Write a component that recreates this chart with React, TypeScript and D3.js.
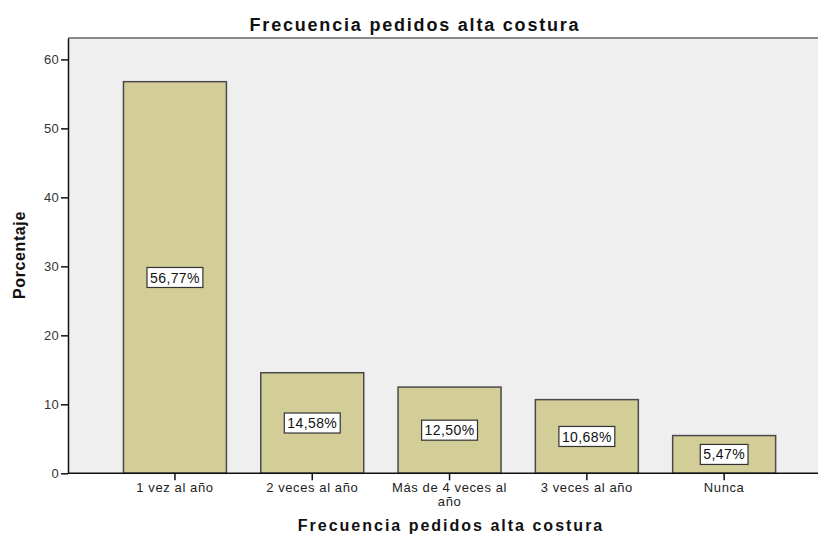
import React, { useEffect, useRef } from 'react';
import * as d3 from 'd3';

const categories = ['1 vez al año', '2 veces al año', 'Más de 4 veces al año', '3 veces al año', 'Nunca'];
const percentages = [56.77, 14.58, 12.5, 10.68, 5.47];
const valueLabels = ['56,77%', '14,58%', '12,50%', '10,68%', '5,47%'];
const yTicks = [0, 10, 20, 30, 40, 50, 60];

const App = () => {
    const ref = useRef<SVGSVGElement>(null);

    useEffect(() => {
        document.body.style.margin = '0';

        const width = 818;
        const height = 535;
        const font = 'Arial, "Liberation Sans", sans-serif';

        const plot = { left: 68, top: 38, right: 818, bottom: 473.3 };

        const svg = d3.select(ref.current)
            .attr('width', width)
            .attr('height', height);
        svg.selectAll('*').remove();

        const x = d3.scaleBand()
            .domain(categories)
            .range([106.3, 792.8])
            .paddingInner(0.25)
            .paddingOuter(0.125);

        const y = d3.scaleLinear()
            .domain([0, 63.1])
            .range([plot.bottom, plot.top]);

        // plot background
        svg.append('rect')
            .attr('x', plot.left)
            .attr('y', plot.top)
            .attr('width', plot.right - plot.left)
            .attr('height', plot.bottom - plot.top)
            .attr('fill', '#efefef');

        svg.append('line')
            .attr('x1', plot.left)
            .attr('x2', plot.right)
            .attr('y1', plot.top)
            .attr('y2', plot.top)
            .attr('stroke', '#8a8a8a')
            .attr('stroke-width', 2);

        const data = categories.map((c, i) => ({ name: c, value: percentages[i], label: valueLabels[i] }));

        svg.append('g')
            .selectAll('rect')
            .data(data)
            .join('rect')
                .attr('x', d => x(d.name)!)
                .attr('y', d => y(d.value))
                .attr('width', x.bandwidth())
                .attr('height', d => y(0) - y(d.value))
                .attr('fill', '#d3cd97')
                .attr('stroke', '#4a4a4a')
                .attr('stroke-width', 1.5);

        // value boxes
        const boxes = svg.append('g')
            .selectAll('g')
            .data(data)
            .join('g')
                .attr('transform', d => `translate(${x(d.name)! + x.bandwidth() / 2},${y(d.value / 2)})`);

        boxes.append('rect')
            .attr('fill', '#fff')
            .attr('stroke', '#333')
            .attr('stroke-width', 1.2);

        boxes.append('text')
            .attr('text-anchor', 'middle')
            .attr('dy', '0.36em')
            .attr('font-family', font)
            .attr('font-size', 14)
            .attr('letter-spacing', 0.4)
            .attr('fill', '#111')
            .text(d => d.label);

        boxes.each(function () {
            const g = d3.select(this);
            const w = (g.select('text').node() as SVGTextElement).getComputedTextLength() + 6;
            g.select('rect')
                .attr('x', -w / 2)
                .attr('y', -10)
                .attr('width', w)
                .attr('height', 20);
        });

        // y axis
        const yAxis = svg.append('g')
            .attr('transform', `translate(${plot.left},0)`)
            .call(d3.axisLeft(y).tickValues(yTicks).tickSize(7).tickSizeOuter(0).tickPadding(2));
        yAxis.select('.domain').attr('stroke', '#111').attr('stroke-width', 1.5);
        yAxis.selectAll('.tick line').attr('stroke', '#111').attr('stroke-width', 1.5);
        yAxis.selectAll('.tick text')
            .attr('font-family', font)
            .attr('font-size', 13)
            .attr('letter-spacing', 0.3)
            .attr('fill', '#333');

        // x axis (labels drawn separately so the long one can wrap)
        const xAxis = svg.append('g')
            .attr('transform', `translate(0,${plot.bottom})`)
            .call(d3.axisBottom(x).tickSize(7).tickSizeOuter(0));
        xAxis.selectAll('.tick text').remove();
        xAxis.select('.domain')
            .attr('d', `M${plot.left},0H${plot.right}`)
            .attr('stroke', '#111')
            .attr('stroke-width', 1.5);
        xAxis.selectAll('.tick line').attr('stroke', '#111').attr('stroke-width', 1.5);

        const wrapped: Record<string, string[]> = { 'Más de 4 veces al año': ['Más de 4 veces al', 'año'] };
        const labelLines = categories.flatMap(c =>
            (wrapped[c] || [c]).map((line, i) => ({ cat: c, line, row: i }))
        );
        svg.append('g')
            .selectAll('text')
            .data(labelLines)
            .join('text')
                .attr('x', d => x(d.cat)! + x.bandwidth() / 2)
                .attr('y', d => 492 + d.row * 14)
                .attr('text-anchor', 'middle')
                .attr('font-family', font)
                .attr('font-size', 13)
                .attr('letter-spacing', 0.6)
                .attr('fill', '#222')
                .text(d => d.line);

        // titles
        svg.append('text')
            .attr('x', 415)
            .attr('y', 31)
            .attr('text-anchor', 'middle')
            .attr('font-family', font)
            .attr('font-weight', 'bold')
            .attr('font-size', 18)
            .attr('letter-spacing', 1.8)
            .attr('fill', '#111')
            .text('Frecuencia pedidos alta costura');

        svg.append('text')
            .attr('x', 451)
            .attr('y', 531)
            .attr('text-anchor', 'middle')
            .attr('font-family', font)
            .attr('font-weight', 'bold')
            .attr('font-size', 16)
            .attr('letter-spacing', 2)
            .attr('fill', '#111')
            .text('Frecuencia pedidos alta costura');

        svg.append('text')
            .attr('transform', 'translate(25,255) rotate(-90)')
            .attr('text-anchor', 'middle')
            .attr('font-family', font)
            .attr('font-weight', 'bold')
            .attr('font-size', 16)
            .attr('letter-spacing', 0.6)
            .attr('fill', '#111')
            .text('Porcentaje');
    }, []);

    return (
        <div>
            <svg ref={ref} style={{ display: 'block' }} />
        </div>
    );
};

export default App;
